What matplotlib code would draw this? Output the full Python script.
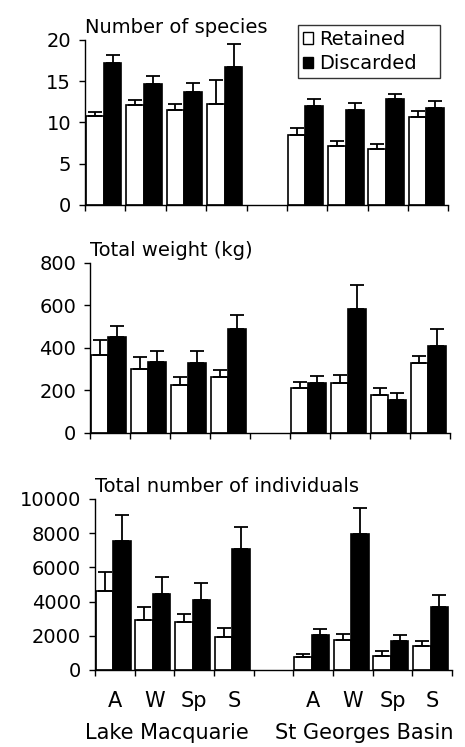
import numpy as np
import matplotlib
matplotlib.use("Agg")
import matplotlib.pyplot as plt
from matplotlib.patches import Patch

plt.rcParams['font.family'] = ['DejaVu Sans']

seasons = ['A', 'W', 'Sp', 'S']
sites = ['Lake Macquarie', 'St Georges Basin']

# number of species (mean, SE) - Lake Macquarie then St Georges Basin
species_ret = [10.8, 12.1, 11.5, 12.2, 8.5, 7.1, 6.8, 10.7]
species_ret_se = [0.5, 0.6, 0.7, 3.0, 0.8, 0.7, 0.6, 0.7]
species_dis = [17.2, 14.7, 13.7, 16.7, 12.0, 11.5, 12.8, 11.8]
species_dis_se = [1.0, 0.9, 1.1, 2.8, 0.8, 0.8, 0.6, 0.8]

# total weight (kg)
weight_ret = [367, 299, 228, 263, 212, 235, 180, 330]
weight_ret_se = [71, 60, 37, 33, 30, 39, 32, 31]
weight_dis = [452, 335, 328, 491, 236, 585, 156, 410]
weight_dis_se = [52, 52, 58, 65, 32, 110, 32, 78]

# total number of individuals
indiv_ret = [4620, 2900, 2790, 1910, 760, 1750, 800, 1380]
indiv_ret_se = [1110, 780, 500, 530, 180, 340, 290, 300]
indiv_dis = [7540, 4440, 4090, 7080, 2050, 7950, 1700, 3700]
indiv_dis_se = [1540, 1000, 1000, 1300, 330, 1520, 330, 670]

# category slots: 4 seasons, empty slot, 4 seasons
xpos = np.array([0, 1, 2, 3, 5, 6, 7, 8])
bw = 0.44
shift = -0.04


def draw_panel(ax, ret, ret_se, dis, dis_se, ymax, ystep, title):
    xr = xpos + shift - bw / 2
    xd = xpos + shift + bw / 2
    ax.bar(xr, ret, bw, color='white', edgecolor='black', linewidth=1.2, zorder=2)
    ax.bar(xd, dis, bw, color='black', edgecolor='black', linewidth=1.2, zorder=2)
    ax.errorbar(xr, ret, yerr=[np.zeros(len(ret)), ret_se], fmt='none',
                ecolor='black', elinewidth=1.3, capsize=5, capthick=1.3, zorder=3)
    ax.errorbar(xd, dis, yerr=[np.zeros(len(dis)), dis_se], fmt='none',
                ecolor='black', elinewidth=1.3, capsize=5, capthick=1.3, zorder=3)
    ax.set_xlim(-0.5, 8.5)
    ax.set_ylim(0, ymax)
    ax.set_yticks(np.arange(0, ymax + 1, ystep))
    ax.set_xticks(np.arange(-0.5, 9, 1), minor=True)
    ax.tick_params(axis='x', which='minor', length=4, width=1, direction='out')
    ax.tick_params(axis='x', which='major', length=0)
    ax.tick_params(axis='y', length=4, width=1, direction='out', pad=6, labelsize=14)
    for s in ['top', 'right']:
        ax.spines[s].set_visible(False)
    ax.spines['left'].set_linewidth(1)
    ax.spines['bottom'].set_linewidth(1)
    ax.text(0.0, 1.02, title, transform=ax.transAxes, fontsize=14,
            ha='left', va='bottom')


fig = plt.figure(figsize=(4.65, 7.47), dpi=100)
ax1 = fig.add_axes([0.183, 0.7256, 0.781, 0.2209])
ax2 = fig.add_axes([0.1935, 0.4204, 0.774, 0.2276])
ax3 = fig.add_axes([0.2043, 0.1031, 0.7677, 0.2289])

draw_panel(ax1, species_ret, species_ret_se, species_dis, species_dis_se,
           20, 5, 'Number of species')
draw_panel(ax2, weight_ret, weight_ret_se, weight_dis, weight_dis_se,
           800, 200, 'Total weight (kg)')
draw_panel(ax3, indiv_ret, indiv_ret_se, indiv_dis, indiv_dis_se,
           10000, 2000, 'Total number of individuals')

ax1.set_xticks(xpos, [''] * len(xpos))
ax2.set_xticks(xpos, [''] * len(xpos))
ax3.set_xticks(xpos, seasons * 2)
ax3.tick_params(axis='x', which='major', labelsize=15, pad=15)

tr = ax3.get_xaxis_transform()
ax3.text(1.3, -0.37, sites[0], transform=tr, fontsize=15, ha='center', va='center')
ax3.text(6.3, -0.37, sites[1], transform=tr, fontsize=15, ha='center', va='center')

handles = [Patch(facecolor='white', edgecolor='black', linewidth=1),
           Patch(facecolor='black', edgecolor='black', linewidth=1)]
leg = fig.legend(handles, ['Retained', 'Discarded'], loc='upper left',
                 bbox_to_anchor=(298 / 465, 1 - 83 / 747, 142 / 465, 58 / 747),
                 mode='expand', fontsize=14,
                 frameon=True, fancybox=False, edgecolor='black',
                 handlelength=0.5, handleheight=0.5, handletextpad=0.35,
                 borderpad=0.25, borderaxespad=0, labelspacing=0.28)
leg.get_frame().set_linewidth(1)

fig.savefig('out.png', dpi=100)
